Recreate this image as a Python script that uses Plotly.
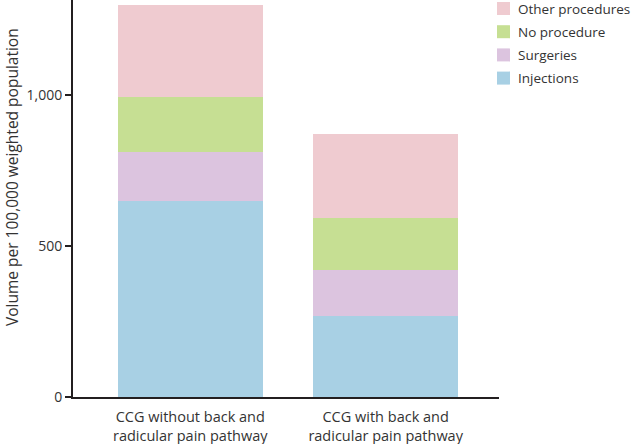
import plotly.graph_objects as go

categories = ["CCG without back and<br>radicular pain pathway",
              "CCG with back and<br>radicular pain pathway"]
injections = [648, 269]
surgeries = [164, 152]
no_procedure = [180, 173]
other_procedures = [304, 276]

series = [
    ("Injections", injections, "#a8d0e4"),
    ("Surgeries", surgeries, "#dcc4df"),
    ("No procedure", no_procedure, "#c6df93"),
    ("Other procedures", other_procedures, "#efcbd0"),
]

FONT = "Open Sans"
TXT = "#333333"
W, H = 636, 444
ML, MR, MT, MB = 73, 137, 0, 47
PW, PH = W - ML - MR, H - MT - MB

fig = go.Figure()
for name, vals, col in series:
    fig.add_trace(go.Bar(
        x=[0, 1], y=vals, name=name, marker=dict(color=col, line=dict(width=0)),
        width=0.74, showlegend=False,
    ))

# legend drawn as squares + text (top entry = last stacked series)
shapes, annots = [], []
leg_y0, leg_dy = 8.5, 23.2
for i, (name, vals, col) in enumerate(reversed(series)):
    cy = leg_y0 + i * leg_dy
    shapes.append(dict(
        type="rect", xref="paper", yref="paper",
        x0=(497 - ML) / PW, x1=(510 - ML) / PW,
        y0=(PH - (cy + 6.5)) / PH, y1=(PH - (cy - 6.5)) / PH,
        fillcolor=col, line=dict(width=0),
    ))
    annots.append(dict(
        text=name, xref="paper", yref="paper",
        x=(516 - ML) / PW, y=(PH - cy) / PH,
        xanchor="left", yanchor="middle", showarrow=False,
        font=dict(family=FONT, size=13.5, color=TXT),
    ))

annots.append(dict(
    text="Volume per 100,000 weighted population",
    xref="paper", yref="paper", x=(12 - ML) / PW, y=(PH - 177) / PH,
    xanchor="center", yanchor="middle", textangle=-90, showarrow=False,
    font=dict(family=FONT, size=15.5, color=TXT),
))

fig.update_layout(
    barmode="stack",
    width=W, height=H,
    margin=dict(l=ML, r=MR, t=MT, b=MB),
    paper_bgcolor="white", plot_bgcolor="white",
    font=dict(family=FONT, size=14, color=TXT),
    showlegend=False,
    xaxis=dict(
        range=[-0.6, 1.58], tickmode="array", tickvals=[0, 1], ticktext=categories,
        showline=True, linecolor="#231f20", linewidth=2, ticks="",
        showgrid=False, zeroline=False, ticklabelstandoff=6,
        tickfont=dict(family=FONT, size=14.5, color=TXT),
    ),
    yaxis=dict(
        range=[0, 1314], tickvals=[0, 500, 1000], tickformat=",",
        showline=True, linecolor="#231f20", linewidth=2,
        ticks="outside", ticklen=6, tickwidth=1.5, tickcolor="#231f20",
        showgrid=False, zeroline=False,
        tickfont=dict(family=FONT, size=14, color=TXT),
    ),
    shapes=shapes,
    annotations=annots,
)

fig.write_html("out.html", config={"displayModeBar": False},
               post_script="document.body.style.margin='0';")
